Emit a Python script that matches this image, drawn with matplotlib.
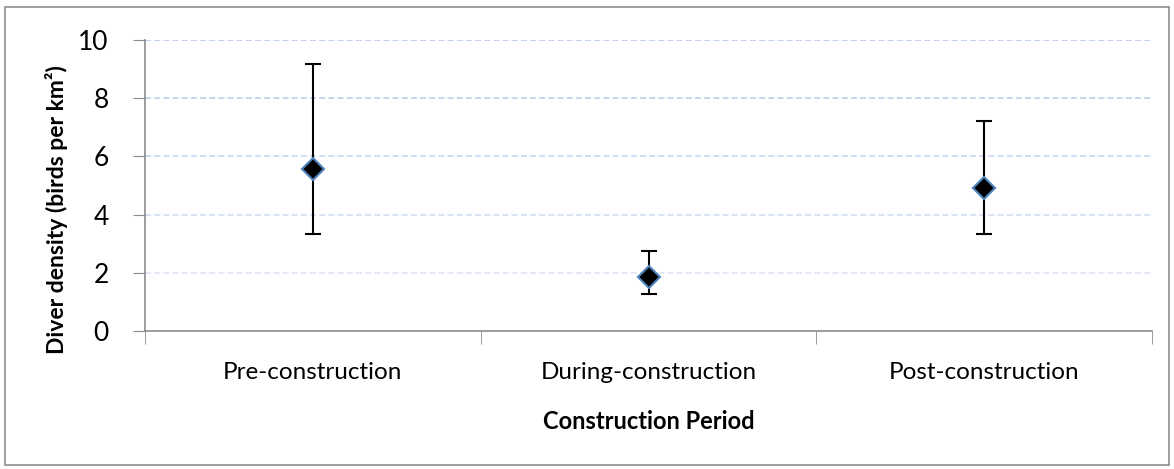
import matplotlib.pyplot as plt
import matplotlib.patches as patches
import numpy as np

# Donnees
periods = ["Pre-construction", "During-construction", "Post-construction"]
density = [5.57, 1.86, 4.91]
upper = [9.17, 2.75, 7.22]
lower = [3.33, 1.27, 3.33]

plt.rcParams['font.family'] = ['Lato', 'DejaVu Sans']

x = np.arange(len(periods))
err_low = np.array(density) - np.array(lower)
err_high = np.array(upper) - np.array(density)

fig = plt.figure(figsize=(11.74, 4.69), dpi=100)
ax = fig.add_axes([145 / 1174, 1 - 331 / 469, (1152 - 145) / 1174, (331 - 40) / 469])

# Cadre exterieur
fig.patches.append(patches.Rectangle((5 / 1174, 4 / 469), 1164 / 1174, 458 / 469,
                                     transform=fig.transFigure, fill=False,
                                     edgecolor='#8c8c8c', linewidth=1.2))

ax.errorbar(x, density, yerr=[err_low, err_high], fmt='D', color='black',
            markerfacecolor='black', markeredgecolor='#4F81BD', markeredgewidth=1.5,
            markersize=11, ecolor='black', elinewidth=1.5, capsize=6, capthick=1.5,
            zorder=3)

ax.set_xlim(-0.5, 2.5)
ax.set_ylim(0, 10)
ax.set_yticks([0, 2, 4, 6, 8, 10])
ax.set_xticks(x)
ax.set_xticklabels(periods)
ax.set_xticks([-0.5, 0.5, 1.5, 2.5], minor=True)
ax.tick_params(axis='x', which='major', length=0, labelsize=17.5, pad=22)
ax.tick_params(axis='x', which='minor', length=9, color='#8c8c8c', direction='out')
ax.tick_params(axis='y', length=9, color='#8c8c8c', labelsize=19, pad=17)

# Grille horizontale en pointilles bleu clair
grid_colors = {2: '#dbe4f4', 4: '#cfdbf1', 6: '#c4d3ee', 8: '#b9cbea', 10: '#b0c4e8'}
for yv, c in grid_colors.items():
    ax.axhline(yv, color=c, linestyle=(0, (4, 2)), linewidth=1.1, zorder=1)

for side in ['top', 'right']:
    ax.spines[side].set_visible(False)
for side in ['left', 'bottom']:
    ax.spines[side].set_color('#8c8c8c')
    ax.spines[side].set_linewidth(1.2)

ax.set_ylabel('Diver density (birds per km²)', fontsize=16.5, fontweight='bold')
ax.yaxis.set_label_coords(-0.076, 0.416)
ax.set_xlabel('Construction Period', fontsize=17, fontweight='bold', labelpad=20)

fig.savefig('out.png', dpi=100)
